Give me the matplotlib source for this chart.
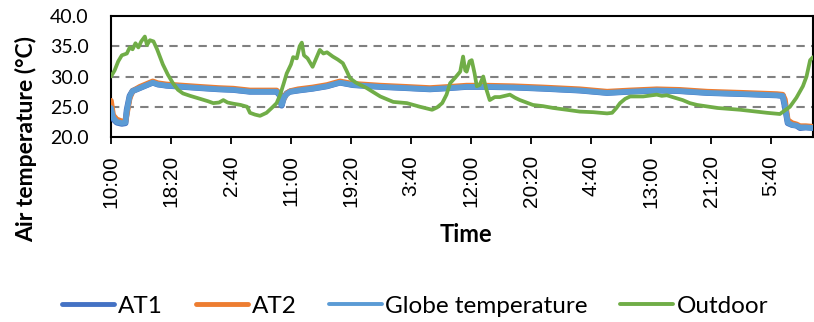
import matplotlib
matplotlib.use("Agg")
import matplotlib.pyplot as plt
from matplotlib.lines import Line2D

# ---- data (hours since the 10:00 start) ----
tick_labels = ["10:00", "18:20", "2:40", "11:00", "19:20", "3:40",
               "12:00", "20:20", "4:40", "13:00", "21:20", "5:40"]
tick_step_h = 500 / 60.0

out_h = [0, 0.5, 1.0, 1.5, 2.2, 2.6, 3.0, 3.4, 3.8, 4.2, 4.7, 5.0, 5.4, 5.9, 6.4,
         7.2, 7.9, 8.6, 9.3, 10.0, 11.0, 12.4, 13.5, 14.2, 15.0, 15.6, 16.2, 17.0,
         18.0, 18.9, 19.3, 20.0, 20.7, 21.6, 22.5, 23.0, 23.5, 24.0, 24.4, 25.0,
         25.3, 25.8, 26.2, 26.5, 26.8, 27.3, 28.0, 28.5, 29.0, 29.5, 30.0, 30.8,
         31.5, 32.2, 32.7, 33.2, 34.0, 35.5, 37.4, 39.2, 41.1, 42.9, 44.6, 45.3,
         46.0, 46.6, 47.1, 47.8, 48.5, 48.9, 49.2, 49.4, 49.8, 50.1, 50.5, 50.8,
         51.2, 51.7, 52.1, 52.6, 53.3, 54.0, 54.7, 55.4, 56.1, 56.8, 57.7, 58.6,
         60.0, 61.4, 63.3, 65.1, 67.0, 68.9, 69.6, 70.2, 70.7, 71.4, 72.1, 73.9,
         75.8, 76.5, 77.2, 78.0, 79.4, 80.4, 81.4, 84.2, 87.4, 91.1, 92.9, 94.3,
         95.2, 96.1, 96.6, 97.1, 97.5]
outdoor = [30.0, 31.0, 32.5, 33.5, 33.8, 34.8, 34.5, 35.5, 34.8, 35.8, 36.6, 35.2,
           36.0, 35.8, 34.5, 32.0, 30.3, 28.9, 27.8, 27.2, 26.8, 26.3, 25.9, 25.6,
           25.7, 26.1, 25.7, 25.5, 25.3, 25.0, 24.0, 23.7, 23.5, 24.0, 25.0, 25.6,
           27.0, 28.9, 30.5, 32.0, 33.2, 33.0, 35.0, 35.6, 33.5, 33.0, 31.6, 33.0,
           34.4, 33.8, 34.0, 33.3, 32.8, 32.2, 31.0, 29.7, 29.0, 28.1, 26.7, 25.8,
           25.6, 25.0, 24.5, 24.9, 25.6, 27.0, 28.9, 29.8, 30.8, 33.3, 31.0, 30.8,
           32.5, 32.7, 30.5, 28.4, 28.6, 30.0, 28.0, 26.1, 26.6, 26.6, 26.8, 27.0,
           26.5, 26.1, 25.7, 25.3, 25.1, 24.8, 24.5, 24.2, 24.1, 23.9, 24.0, 24.8,
           25.6, 26.3, 26.7, 26.7, 27.0, 26.8, 26.9, 26.6, 26.1, 25.6, 25.3, 24.8,
           24.5, 24.0, 23.8, 25.0, 26.5, 28.4, 30.0, 32.7, 33.2]

in_h = [0, 0.3, 0.8, 1.5, 2.0, 2.2, 2.6, 3.0, 4.0, 5.0, 5.8, 6.5, 7.7, 10.0, 12.4,
        15.0, 17.0, 19.3, 21.0, 23.0, 23.5, 23.7, 24.0, 24.4, 24.9, 26.0, 28.0,
        30.0, 31.8, 33.6, 37.4, 41.0, 44.3, 47.0, 49.4, 52.0, 55.9, 60.0, 65.1,
        68.9, 72.0, 75.8, 79.0, 82.8, 88.0, 92.5, 93.3, 93.6, 94.0, 94.6, 95.2,
        95.7, 96.5, 97.5]
at1 = [24.5, 23.0, 22.4, 22.2, 22.3, 24.5, 26.8, 27.6, 28.1, 28.6, 29.0, 28.7,
       28.5, 28.3, 28.1, 27.9, 27.8, 27.5, 27.5, 27.5, 26.8, 25.2, 26.5, 27.2,
       27.5, 27.7, 28.0, 28.4, 29.0, 28.6, 28.3, 28.1, 27.9, 28.1, 28.3, 28.3,
       28.2, 28.0, 27.7, 27.3, 27.5, 27.7, 27.6, 27.3, 27.1, 26.9, 26.8, 25.0,
       22.3, 22.0, 21.9, 21.5, 21.6, 21.5]
at2 = [26.0, 23.6, 22.9, 22.6, 22.6, 23.8, 26.4, 27.6, 28.3, 28.8, 29.2, 28.9,
       28.7, 28.5, 28.3, 28.1, 28.0, 27.7, 27.7, 27.7, 27.1, 25.8, 26.3, 27.2,
       27.6, 27.9, 28.2, 28.6, 29.2, 28.8, 28.5, 28.3, 28.1, 28.3, 28.5, 28.5,
       28.4, 28.2, 27.9, 27.5, 27.7, 27.9, 27.8, 27.5, 27.3, 27.1, 27.0, 26.2,
       22.8, 22.3, 22.1, 21.8, 21.8, 21.7]
globe = [24.8, 23.2, 22.5, 22.3, 22.4, 24.3, 26.7, 27.6, 28.1, 28.6, 29.0, 28.7,
         28.5, 28.3, 28.1, 27.9, 27.8, 27.5, 27.5, 27.5, 26.9, 25.3, 26.4, 27.1,
         27.5, 27.7, 28.0, 28.4, 29.0, 28.6, 28.3, 28.1, 27.9, 28.1, 28.3, 28.3,
         28.2, 28.0, 27.7, 27.3, 27.5, 27.7, 27.6, 27.3, 27.1, 26.9, 26.8, 25.3,
         22.4, 22.0, 21.9, 21.6, 21.6, 21.5]

c_at1 = "#4472C4"
c_at2 = "#ED7D31"
c_globe = "#5B9BD5"
c_out = "#70AD47"

fig = plt.figure(figsize=(8.14, 3.22), dpi=100)
ax = fig.add_axes([111 / 814, 1 - 137 / 322, (813 - 111) / 814, (137 - 16) / 322])

ax.plot(in_h, at1, color=c_at1, lw=4.4, solid_capstyle="round", zorder=3)
ax.plot(in_h, at2, color=c_at2, lw=4.0, solid_capstyle="round", zorder=4)
ax.plot(in_h, globe, color=c_globe, lw=4.0, solid_capstyle="round", zorder=5)
ax.plot(out_h, outdoor, color=c_out, lw=2.7, solid_capstyle="round", zorder=6)

ax.set_xlim(0, 97.5)
ax.set_ylim(20, 40)
ax.set_yticks([20, 25, 30, 35, 40])
ax.set_yticklabels([f"{v:.1f}" for v in [20, 25, 30, 35, 40]],
                   fontfamily="Lato", fontsize=14)
ticks = [i * tick_step_h for i in range(len(tick_labels))]
ax.set_xticks(ticks)
ax.set_xticklabels(tick_labels, rotation=90, fontfamily="Liberation Sans",
                   fontsize=15)
ax.tick_params(axis="y", length=0, pad=16)
ax.tick_params(axis="x", length=5, width=1.3, pad=8, direction="out")

for y in [25, 30, 35]:
    ax.axhline(y, color="#808080", lw=1.5, ls=(0, (4, 3)), zorder=1)

for s in ax.spines.values():
    s.set_linewidth(1.5)
    s.set_color("black")

fig.text(26 / 814, 1 - 139 / 322, "Air temperature (°C)", rotation=90,
         ha="center", va="center", fontfamily="Lato", fontweight="bold",
         fontsize=16.5)
fig.text(466 / 814, 1 - 234 / 322, "Time", ha="center", va="center",
         fontfamily="Lato", fontweight="bold", fontsize=17)

handles = [Line2D([], [], color=c_at1, lw=3.5, solid_capstyle="round"),
           Line2D([], [], color=c_at2, lw=3.5, solid_capstyle="round"),
           Line2D([], [], color=c_globe, lw=2.8, solid_capstyle="round"),
           Line2D([], [], color=c_out, lw=2.8, solid_capstyle="round")]
labels = ["AT1", "AT2", "Globe temperature", "Outdoor"]
fig.legend(handles, labels, loc="center", bbox_to_anchor=(415 / 814, 1 - 306 / 322),
           ncol=4, frameon=False, prop={"family": "Lato", "size": 17.5},
           handlelength=2.15, handletextpad=0.15, columnspacing=1.35,
           borderaxespad=0)

fig.savefig("out.png", dpi=100)
